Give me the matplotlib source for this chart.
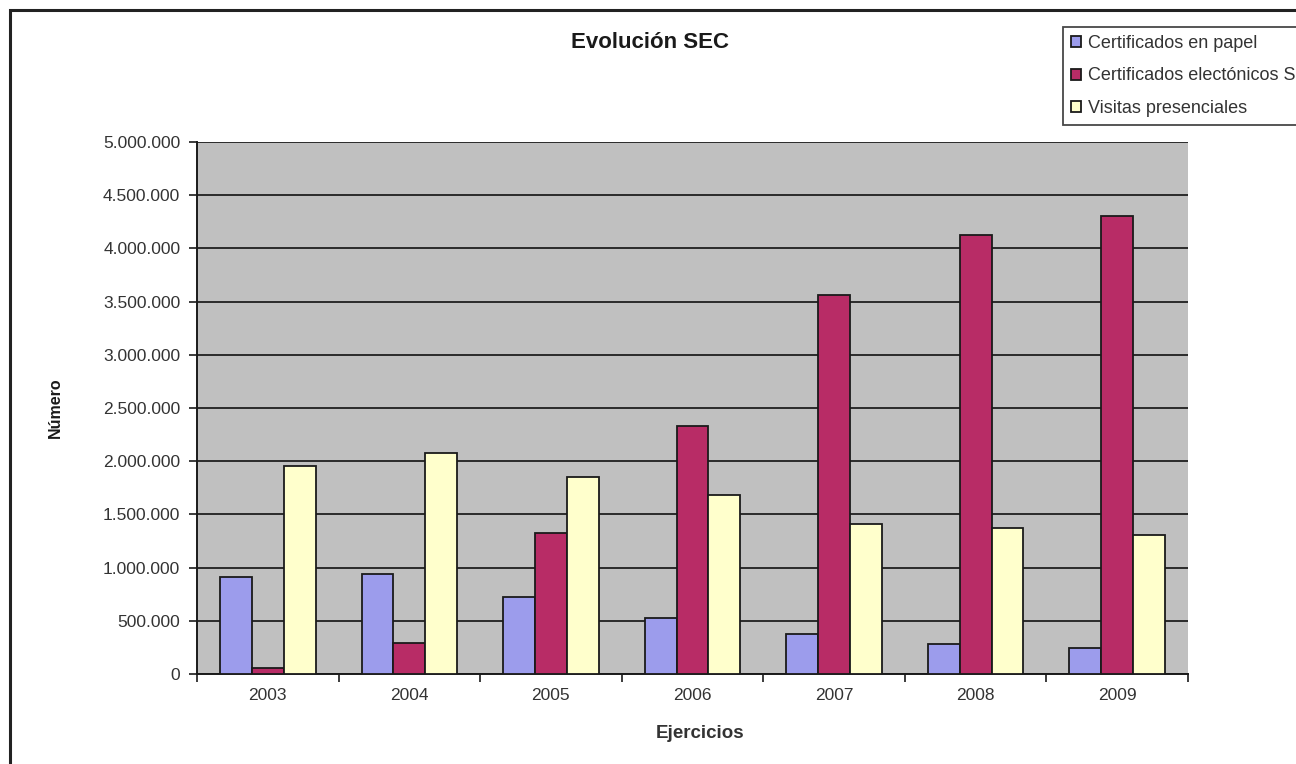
import matplotlib
matplotlib.use("Agg")
import matplotlib.pyplot as plt
import numpy as np
from matplotlib.ticker import FuncFormatter, FixedLocator
from matplotlib.patches import Rectangle

plt.rcParams['font.family'] = ['Liberation Sans', 'DejaVu Sans']

years = ["2003", "2004", "2005", "2006", "2007", "2008", "2009"]
papel = [911000, 940000, 724000, 526000, 376000, 282000, 244000]
electronicos = [56000, 291000, 1325000, 2330000, 3560000, 4125000, 4305000]
visitas = [1955000, 2077000, 1850000, 1680000, 1410000, 1370000, 1306000]
series_names = ["Certificados en papel", "Certificados electónicos SEC", "Visitas presenciales"]
colors = ["#9C9CEC", "#B82C66", "#FFFFCC"]

fig = plt.figure(figsize=(12.96, 7.64), dpi=100)
ax = fig.add_axes([197/1296, 1-674/764, (1188-197)/1296, (674-142)/764])
ax.set_facecolor("#C0C0C0")

x = np.arange(len(years))
w = 0.225
for i, (vals, c, name) in enumerate(zip([papel, electronicos, visitas], colors, series_names)):
    ax.bar(x + (i-1)*w, vals, width=w, color=c, edgecolor="#1a1a1a", linewidth=1.3, label=name, zorder=3)

ax.set_xlim(-0.5, len(years)-0.5)
ax.set_ylim(0, 5000000)
ax.yaxis.set_major_locator(FixedLocator(np.arange(0, 5000001, 500000)))
ax.yaxis.set_major_formatter(FuncFormatter(lambda v, p: f"{int(v):,}".replace(",", ".")))
ax.grid(axis='y', color="#2a2a2a", linewidth=1.4, zorder=1)
ax.set_axisbelow(True)

ax.set_xticks(x)
ax.set_xticklabels(years)
ax.tick_params(axis='x', length=0, pad=10, labelsize=12.5, labelcolor="#333333")
ax.set_xticks(np.arange(-0.5, len(years)), minor=True)
ax.tick_params(axis='x', which='minor', length=6, width=1.2, color="#1a1a1a", direction='out')
ax.tick_params(axis='y', length=6, width=1.2, color="#1a1a1a", direction='out', labelsize=12.5, labelcolor="#333333", pad=6)

for s in ['top', 'right']:
    ax.spines[s].set_visible(False)
for s in ['left', 'bottom']:
    ax.spines[s].set_color("#1a1a1a")
    ax.spines[s].set_linewidth(1.4)

fig.text(650/1296, 1-42/764, "Evolución SEC", ha='center', va='center', fontsize=16, fontweight='bold', color="#1a1a1a")
fig.text(55/1296, 1-408/764, "Número", ha='center', va='center', rotation=90, fontsize=11.5, fontweight='bold', color="#1a1a1a")
fig.text(700/1296, 1-733/764, "Ejercicios", ha='center', va='center', fontsize=13.5, fontweight='bold', color="#333333")

leg = fig.legend(loc='upper left', bbox_to_anchor=(1063/1296, 1-27/764), frameon=True, fancybox=False,
                 fontsize=13, handlelength=0.55, handleheight=0.55, handletextpad=0.4,
                 borderpad=0.45, labelspacing=0.85, edgecolor="#1a1a1a", borderaxespad=0)
leg.get_frame().set_linewidth(1.3)
for t in leg.get_texts():
    t.set_color("#333333")

border = Rectangle((10/1296, -0.05), 1.2, 1-10/764+0.05, transform=fig.transFigure, fill=False,
                   edgecolor="#222222", linewidth=2.2, clip_on=False)
fig.patches.append(border)

fig.savefig("out.png", dpi=100, facecolor="white")
